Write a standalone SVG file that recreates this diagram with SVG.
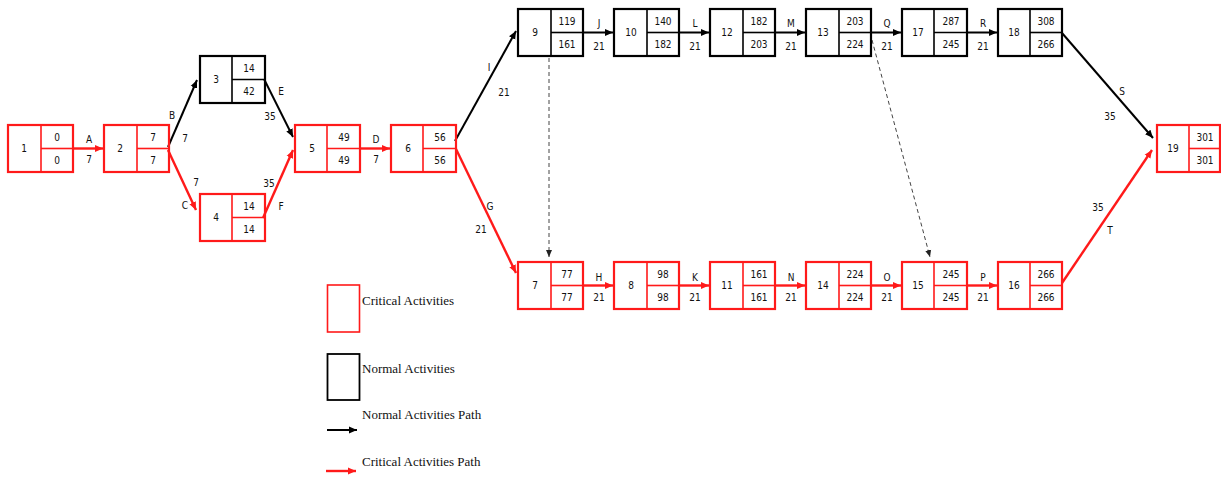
<svg xmlns="http://www.w3.org/2000/svg" width="1221" height="479" viewBox="0 0 1221 479">
<style>
.crit rect,.crit line{stroke:#ff1a1a;fill:none}
.norm rect,.norm line{stroke:#000;fill:none}
rect.b{stroke-width:2.2}
line.d{stroke-width:1.6}
.t{font-family:"DejaVu Sans Condensed","Liberation Sans",sans-serif;font-size:10px;fill:#111;text-anchor:middle}
.l{font-family:"DejaVu Sans Condensed","Liberation Sans",sans-serif;font-size:10px;fill:#111;text-anchor:middle}
.lg{font-family:"Liberation Serif",serif;font-size:13px;fill:#111}
.ca{stroke:#ff1a1a;stroke-width:2.4;fill:none}
.na{stroke:#000;stroke-width:2;fill:none}
.ds{stroke:#444;stroke-width:1;stroke-dasharray:4 3;fill:none}
</style>
<defs>
<marker id="mr" markerUnits="userSpaceOnUse" markerWidth="9" markerHeight="8" refX="8" refY="4" orient="auto"><path d="M0,0.5 L8,4 L0,7.5 z" fill="#ff1a1a"/></marker>
<marker id="mb" markerUnits="userSpaceOnUse" markerWidth="9" markerHeight="8" refX="8" refY="4" orient="auto"><path d="M0,0.5 L8,4 L0,7.5 z" fill="#000"/></marker>
<marker id="md" markerUnits="userSpaceOnUse" markerWidth="8" markerHeight="8" refX="7" refY="4" orient="auto"><path d="M0,1 L7,4 L0,7 z" fill="#222"/></marker>
</defs>
<g id="connectors">
<line class="ca" x1="73" y1="148.5" x2="103" y2="148.5" marker-end="url(#mr)"/>
<line class="na" x1="168" y1="147" x2="197" y2="80" marker-end="url(#mb)"/>
<line class="ca" x1="168" y1="150" x2="196" y2="210" marker-end="url(#mr)"/>
<line class="na" x1="264" y1="79" x2="293" y2="137" marker-end="url(#mb)"/>
<line class="ca" x1="263" y1="218" x2="293" y2="150" marker-end="url(#mr)"/>
<line class="ca" x1="359" y1="148.5" x2="390" y2="148.5" marker-end="url(#mr)"/>
<line class="na" x1="455" y1="141" x2="516" y2="31" marker-end="url(#mb)"/>
<line class="ca" x1="456" y1="149" x2="516" y2="273" marker-end="url(#mr)"/>
<line class="na" x1="583" y1="32.5" x2="613" y2="32.5" marker-end="url(#mb)"/>
<line class="na" x1="679" y1="32.5" x2="709" y2="32.5" marker-end="url(#mb)"/>
<line class="na" x1="775" y1="32.5" x2="805" y2="32.5" marker-end="url(#mb)"/>
<line class="na" x1="871" y1="32.5" x2="901" y2="32.5" marker-end="url(#mb)"/>
<line class="na" x1="967" y1="32.5" x2="997" y2="32.5" marker-end="url(#mb)"/>
<line class="na" x1="1062" y1="33" x2="1153" y2="138" marker-end="url(#mb)"/>
<line class="ca" x1="583" y1="285.5" x2="613" y2="285.5" marker-end="url(#mr)"/>
<line class="ca" x1="679" y1="285.5" x2="709" y2="285.5" marker-end="url(#mr)"/>
<line class="ca" x1="775" y1="285.5" x2="805" y2="285.5" marker-end="url(#mr)"/>
<line class="ca" x1="871" y1="285.5" x2="901" y2="285.5" marker-end="url(#mr)"/>
<line class="ca" x1="967" y1="285.5" x2="997" y2="285.5" marker-end="url(#mr)"/>
<line class="ca" x1="1062" y1="283" x2="1152" y2="150" marker-end="url(#mr)"/>
<line class="ds" x1="549" y1="58" x2="549" y2="257" marker-end="url(#md)"/>
<line class="ds" x1="872" y1="40" x2="930" y2="257" marker-end="url(#md)"/>
<text class="l" x="89" y="143">A</text><text class="l" x="89" y="163">7</text>
<text class="l" x="172" y="119">B</text><text class="l" x="185" y="142">7</text>
<text class="l" x="196" y="186">7</text><text class="l" x="185" y="209">C</text>
<text class="l" x="281" y="95">E</text><text class="l" x="270" y="120">35</text>
<text class="l" x="269" y="187">35</text><text class="l" x="281" y="210">F</text>
<text class="l" x="376" y="143">D</text><text class="l" x="376" y="163">7</text>
<text class="l" x="489" y="71">I</text><text class="l" x="504" y="96">21</text>
<text class="l" x="490" y="210">G</text><text class="l" x="481" y="233">21</text>
<text class="l" x="599" y="27">J</text><text class="l" x="599" y="50">21</text>
<text class="l" x="695" y="27">L</text><text class="l" x="695" y="50">21</text>
<text class="l" x="791" y="27">M</text><text class="l" x="791" y="50">21</text>
<text class="l" x="887" y="27">Q</text><text class="l" x="887" y="50">21</text>
<text class="l" x="983" y="27">R</text><text class="l" x="983" y="50">21</text>
<text class="l" x="1122" y="95">S</text><text class="l" x="1110" y="120">35</text>
<text class="l" x="599" y="281">H</text><text class="l" x="599" y="301">21</text>
<text class="l" x="695" y="281">K</text><text class="l" x="695" y="301">21</text>
<text class="l" x="791" y="281">N</text><text class="l" x="791" y="301">21</text>
<text class="l" x="887" y="281">O</text><text class="l" x="887" y="301">21</text>
<text class="l" x="983" y="281">P</text><text class="l" x="983" y="301">21</text>
<text class="l" x="1098" y="211">35</text><text class="l" x="1110" y="234">T</text>
</g>
<g id="n1" class="crit"><rect class="b" x="8" y="125" width="65" height="47"/><line class="d" x1="41" y1="125" x2="41" y2="172"/><line class="d" x1="41" y1="148.5" x2="73" y2="148.5"/><text class="t" x="24" y="152">1</text><text class="t" x="57" y="141">0</text><text class="t" x="57" y="164">0</text></g>
<g id="n2" class="crit"><rect class="b" x="104" y="125" width="65" height="47"/><line class="d" x1="137" y1="125" x2="137" y2="172"/><line class="d" x1="137" y1="148.5" x2="169" y2="148.5"/><text class="t" x="120" y="152">2</text><text class="t" x="153" y="141">7</text><text class="t" x="153" y="164">7</text></g>
<g id="n3" class="norm"><rect class="b" x="200" y="56" width="65" height="47"/><line class="d" x1="232" y1="56" x2="232" y2="103"/><line class="d" x1="232" y1="79.5" x2="265" y2="79.5"/><text class="t" x="216" y="83">3</text><text class="t" x="249" y="72">14</text><text class="t" x="249" y="95">42</text></g>
<g id="n4" class="crit"><rect class="b" x="200" y="194" width="65" height="47"/><line class="d" x1="232" y1="194" x2="232" y2="241"/><line class="d" x1="232" y1="217.5" x2="265" y2="217.5"/><text class="t" x="216" y="221">4</text><text class="t" x="249" y="210">14</text><text class="t" x="249" y="233">14</text></g>
<g id="n5" class="crit"><rect class="b" x="295" y="125" width="65" height="47"/><line class="d" x1="327" y1="125" x2="327" y2="172"/><line class="d" x1="327" y1="148.5" x2="360" y2="148.5"/><text class="t" x="312" y="152">5</text><text class="t" x="344" y="141">49</text><text class="t" x="344" y="164">49</text></g>
<g id="n6" class="crit"><rect class="b" x="391" y="125" width="65" height="47"/><line class="d" x1="423" y1="125" x2="423" y2="172"/><line class="d" x1="423" y1="148.5" x2="456" y2="148.5"/><text class="t" x="408" y="152">6</text><text class="t" x="440" y="141">56</text><text class="t" x="440" y="164">56</text></g>
<g id="n9" class="norm"><rect class="b" x="518" y="9" width="65" height="47"/><line class="d" x1="551" y1="9" x2="551" y2="56"/><line class="d" x1="551" y1="32.5" x2="583" y2="32.5"/><text class="t" x="535" y="36">9</text><text class="t" x="567" y="25">119</text><text class="t" x="567" y="48">161</text></g>
<g id="n10" class="norm"><rect class="b" x="614" y="9" width="65" height="47"/><line class="d" x1="647" y1="9" x2="647" y2="56"/><line class="d" x1="647" y1="32.5" x2="679" y2="32.5"/><text class="t" x="631" y="36">10</text><text class="t" x="663" y="25">140</text><text class="t" x="663" y="48">182</text></g>
<g id="n12" class="norm"><rect class="b" x="710" y="9" width="65" height="47"/><line class="d" x1="743" y1="9" x2="743" y2="56"/><line class="d" x1="743" y1="32.5" x2="775" y2="32.5"/><text class="t" x="727" y="36">12</text><text class="t" x="759" y="25">182</text><text class="t" x="759" y="48">203</text></g>
<g id="n13" class="norm"><rect class="b" x="806" y="9" width="65" height="47"/><line class="d" x1="839" y1="9" x2="839" y2="56"/><line class="d" x1="839" y1="32.5" x2="871" y2="32.5"/><text class="t" x="823" y="36">13</text><text class="t" x="855" y="25">203</text><text class="t" x="855" y="48">224</text></g>
<g id="n17" class="norm"><rect class="b" x="902" y="9" width="65" height="47"/><line class="d" x1="934" y1="9" x2="934" y2="56"/><line class="d" x1="934" y1="32.5" x2="967" y2="32.5"/><text class="t" x="918" y="36">17</text><text class="t" x="951" y="25">287</text><text class="t" x="951" y="48">245</text></g>
<g id="n18" class="norm"><rect class="b" x="998" y="9" width="64" height="47"/><line class="d" x1="1030" y1="9" x2="1030" y2="56"/><line class="d" x1="1030" y1="32.5" x2="1062" y2="32.5"/><text class="t" x="1014" y="36">18</text><text class="t" x="1046" y="25">308</text><text class="t" x="1046" y="48">266</text></g>
<g id="n7" class="crit"><rect class="b" x="518" y="262" width="65" height="47"/><line class="d" x1="551" y1="262" x2="551" y2="309"/><line class="d" x1="551" y1="285.5" x2="583" y2="285.5"/><text class="t" x="535" y="289">7</text><text class="t" x="567" y="278">77</text><text class="t" x="567" y="301">77</text></g>
<g id="n8" class="crit"><rect class="b" x="614" y="262" width="65" height="47"/><line class="d" x1="647" y1="262" x2="647" y2="309"/><line class="d" x1="647" y1="285.5" x2="679" y2="285.5"/><text class="t" x="631" y="289">8</text><text class="t" x="663" y="278">98</text><text class="t" x="663" y="301">98</text></g>
<g id="n11" class="crit"><rect class="b" x="710" y="262" width="65" height="47"/><line class="d" x1="743" y1="262" x2="743" y2="309"/><line class="d" x1="743" y1="285.5" x2="775" y2="285.5"/><text class="t" x="727" y="289">11</text><text class="t" x="759" y="278">161</text><text class="t" x="759" y="301">161</text></g>
<g id="n14" class="crit"><rect class="b" x="806" y="262" width="65" height="47"/><line class="d" x1="839" y1="262" x2="839" y2="309"/><line class="d" x1="839" y1="285.5" x2="871" y2="285.5"/><text class="t" x="823" y="289">14</text><text class="t" x="855" y="278">224</text><text class="t" x="855" y="301">224</text></g>
<g id="n15" class="crit"><rect class="b" x="902" y="262" width="65" height="47"/><line class="d" x1="934" y1="262" x2="934" y2="309"/><line class="d" x1="934" y1="285.5" x2="967" y2="285.5"/><text class="t" x="918" y="289">15</text><text class="t" x="951" y="278">245</text><text class="t" x="951" y="301">245</text></g>
<g id="n16" class="crit"><rect class="b" x="998" y="262" width="64" height="47"/><line class="d" x1="1030" y1="262" x2="1030" y2="309"/><line class="d" x1="1030" y1="285.5" x2="1062" y2="285.5"/><text class="t" x="1014" y="289">16</text><text class="t" x="1046" y="278">266</text><text class="t" x="1046" y="301">266</text></g>
<g id="n19" class="crit"><rect class="b" x="1157" y="125" width="63" height="47"/><line class="d" x1="1189" y1="125" x2="1189" y2="172"/><line class="d" x1="1189" y1="148.5" x2="1220" y2="148.5"/><text class="t" x="1173" y="152">19</text><text class="t" x="1205" y="141">301</text><text class="t" x="1205" y="164">301</text></g>
<g id="legend">
<rect x="327.5" y="285" width="32" height="47" fill="none" stroke="#ff1a1a" stroke-width="1.6"/>
<text class="lg" x="362" y="305">Critical Activities</text>
<rect x="327.5" y="354" width="32" height="46" fill="none" stroke="#000" stroke-width="1.8"/>
<text class="lg" x="362" y="373">Normal Activities</text>
<text class="lg" x="362" y="419">Normal Activities Path</text>
<line class="na" x1="327" y1="430" x2="357" y2="430" marker-end="url(#mb)"/>
<text class="lg" x="362" y="466">Critical Activities Path</text>
<line class="ca" x1="326" y1="471" x2="356" y2="471" marker-end="url(#mr)"/>
</g>
</svg>
